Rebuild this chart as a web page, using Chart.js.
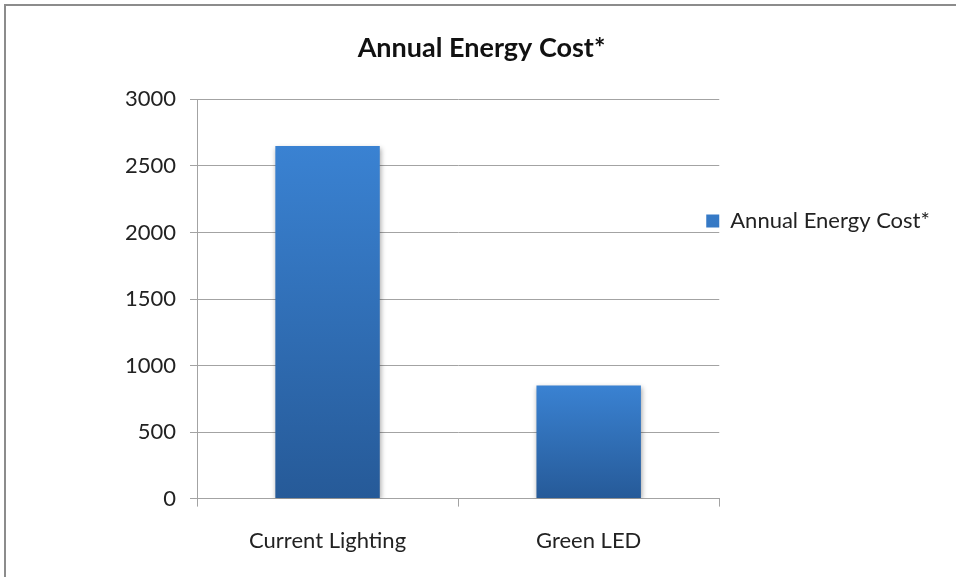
<!DOCTYPE html>
<html>
<head>
<meta charset="utf-8">
<script src="https://cdn.jsdelivr.net/npm/chart.js@4"></script>
<style>
  html, body { margin: 0; padding: 0; background: #fff; overflow: hidden; }
  #frame {
    position: absolute; left: 4px; top: 4px;
    width: 970px; height: 590px;
    border-left: 2px solid #8c8c8c; border-top: 2px solid #8c8c8c;
  }
  #chart { position: absolute; left: 0; top: 0; }
</style>
</head>
<body>
<div id="frame"><canvas id="chart" width="958" height="575"></canvas></div>
<script>
// Chart values
const categories = ['Current Lighting', 'Green LED'];
const costValues = [2650, 850];
const seriesLabel = 'Annual Energy Cost*';
const chartTitle = 'Annual Energy Cost*';

const FONT = "Lato, 'Open Sans', sans-serif";
const TEXT = '#222222';
const GRID = '#a3a3a3';

Chart.defaults.font.family = FONT;
Chart.defaults.color = TEXT;

// vertical gradient per bar, light on top, darker at the base
function barGradient(context) {
  const chart = context.chart;
  if (!chart.chartArea || context.type !== 'data') return '#3276c2';
  const y = chart.scales.y;
  const top = y.getPixelForValue(context.raw);
  const bottom = y.getPixelForValue(0);
  const g = chart.ctx.createLinearGradient(0, top, 0, bottom);
  g.addColorStop(0, '#3a82d2');
  g.addColorStop(1, '#265a98');
  return g;
}

// soft shadow under the bars
const barShadow = {
  id: 'barShadow',
  beforeDatasetsDraw(chart) {
    const c = chart.ctx;
    c.save();
    c.shadowColor = 'rgba(0,0,0,0.35)';
    c.shadowBlur = 5;
    c.shadowOffsetX = 1;
    c.shadowOffsetY = 2;
  },
  afterDatasetsDraw(chart) {
    chart.ctx.restore();
  }
};

// legend sits a bit over the plot edge and above its middle, like the original
const legendNudge = {
  id: 'legendNudge',
  afterLayout(chart) {
    const lg = chart.legend;
    const dx = lg.left - (chart.chartArea.right - 21);
    lg.left -= dx;
    lg.right -= dx;
    const h = lg.bottom - lg.top;
    lg.top = 196;
    lg.bottom = lg.top + h;
  }
};

new Chart(document.getElementById('chart'), {
  type: 'bar',
  data: {
    labels: categories,
    datasets: [{
      label: seriesLabel,
      data: costValues,
      backgroundColor: barGradient,
      borderWidth: 0,
      barPercentage: 0.4,
      categoryPercentage: 1.0
    }]
  },
  plugins: [barShadow, legendNudge],
  options: {
    responsive: false,
    animation: false,
    devicePixelRatio: 1,
    layout: {
      padding: { left: 0, right: 7, top: 0, bottom: 6 }
    },
    plugins: {
      title: {
        display: true,
        text: chartTitle,
        color: '#111111',
        font: { size: 27, weight: 'bold', family: FONT },
        padding: { top: 26, bottom: 35 }
      },
      legend: {
        position: 'right',
        align: 'start',
        labels: {
          boxWidth: 13,
          boxHeight: 13,
          padding: 8,
          color: TEXT,
          font: { size: 22, family: FONT }
        }
      },
      tooltip: { enabled: false }
    },
    scales: {
      x: {
        grid: {
          drawOnChartArea: false,
          drawTicks: true,
          tickLength: 8,
          color: GRID
        },
        border: { color: GRID, width: 1 },
        ticks: {
          color: TEXT,
          padding: 21,
          font: { size: 22, family: FONT }
        }
      },
      y: {
        min: 0,
        max: 3000,
        ticks: {
          stepSize: 500,
          color: TEXT,
          padding: 14,
          font: { size: 22, family: FONT },
          callback: function(value) {
            return String(value);
          }
        },
        grid: {
          color: GRID,
          tickLength: 7
        },
        border: { color: GRID, width: 1 },
        afterFit(scale) { scale.width = 191; }
      }
    }
  }
});
</script>
</body>
</html>
